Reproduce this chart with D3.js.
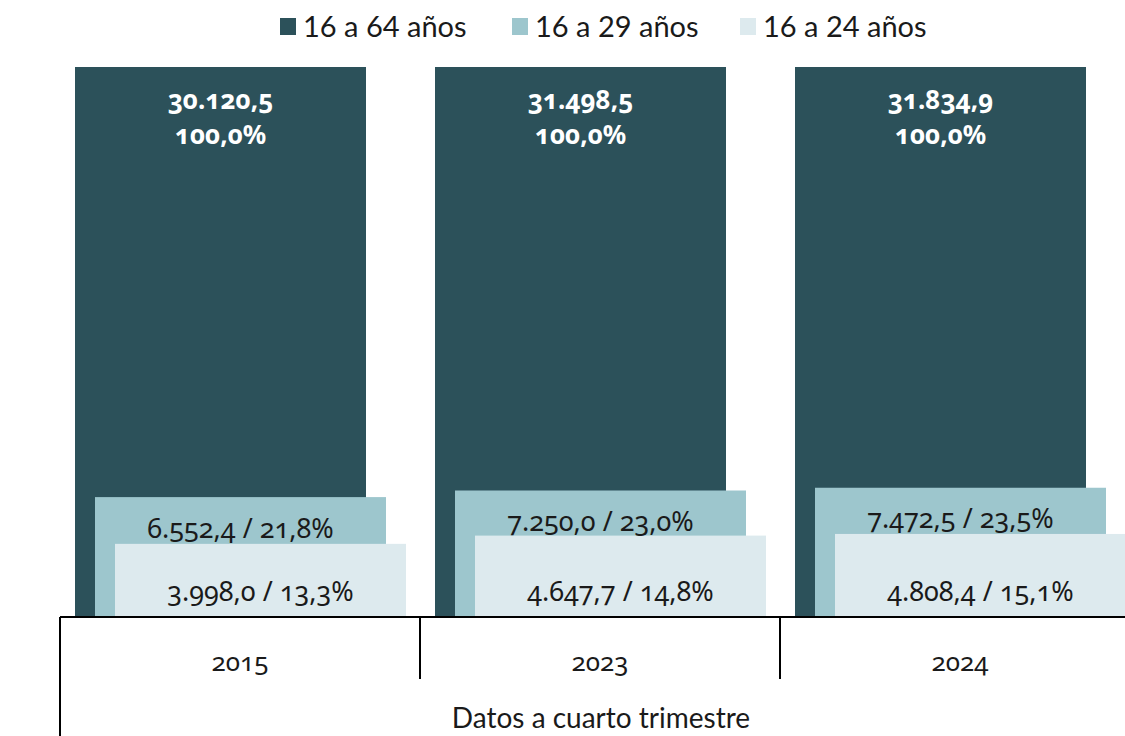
<!DOCTYPE html>
<html>
<head>
<meta charset="utf-8">
<script src="https://cdn.jsdelivr.net/npm/d3@7"></script>
<style>
  body { margin: 0; background: #fff; }
  .num { font-family: "Noto Sans", sans-serif; font-feature-settings: "onum"; font-variant-numeric: oldstyle-nums; }
  .leg { font-family: Lato, "Noto Sans", sans-serif; }
</style>
</head>
<body>
<div id="chart"></div>
<script>
// data
var years = ["2015", "2023", "2024"];
var seriesNames = ["16 a 64 años", "16 a 29 años", "16 a 24 años"];
var total = [30120.5, 31498.5, 31834.9];
var age16_29 = [6552.4, 7250.0, 7472.5];
var age16_24 = [3998.0, 4647.7, 4808.4];
var pct16_64 = [100.0, 100.0, 100.0];
var pct16_29 = [21.8, 23.0, 23.5];
var pct16_24 = [13.3, 14.8, 15.1];
var axisTitle = "Datos a cuarto trimestre";

var colors = ["#2c515a", "#9dc6cd", "#ddeaee"];

function main(){
    buildChart();
}

function buildChart(){
    var width = 1125, height = 736;
    var loc = d3.formatLocale({decimal: ",", thousands: ".", grouping: [3], currency: ["", "€"]});
    var fmt = loc.format(",.1f");

    var svg = d3.select("#chart")
        .append("svg")
            .attr("width", width)
            .attr("height", height);

    var xScale = d3.scaleBand().domain(years).range([60, 1140]).padding(0);
    var yScale = d3.scaleLinear().domain([0, 100]).range([617, 67]);

    var barW = 291;
    var series = [
        {vals: total, pct: pct16_64},
        {vals: age16_29, pct: pct16_29},
        {vals: age16_24, pct: pct16_24}
    ];

    // bars, drawn back to front
    series.forEach(function(s, si){
        svg.selectAll(".bar" + si)
            .data(years)
            .enter().append("rect")
            .attr("x", function(d){ return xScale(d) + 15 + 20 * si; })
            .attr("y", function(d, i){ return yScale(s.pct[i]); })
            .attr("width", barW)
            .attr("height", function(d, i){ return yScale(0) - yScale(s.pct[i]); })
            .attr("fill", colors[si]);
    });

    // labels on the bars
    years.forEach(function(y, i){
        var cx = xScale(y) + 15 + barW / 2;
        svg.append("text").attr("class", "num")
            .attr("x", cx).attr("y", yScale(100) + 42)
            .attr("text-anchor", "middle").attr("font-size", 26).attr("font-weight", "bold")
            .attr("fill", "#fff").text(fmt(total[i]));
        svg.append("text").attr("class", "num")
            .attr("x", cx).attr("y", yScale(100) + 77)
            .attr("text-anchor", "middle").attr("font-size", 26).attr("font-weight", "bold")
            .attr("fill", "#fff").text(fmt(pct16_64[i]) + "%");

        var cx2 = xScale(y) + 35 + barW / 2;
        svg.append("text").attr("class", "num")
            .attr("x", cx2).attr("y", yScale(pct16_29[i]) + 31)
            .attr("dy", "0.35em")
            .attr("text-anchor", "middle").attr("font-size", 27)
            .attr("fill", "#1a1a1a").text(fmt(age16_29[i]) + " / " + fmt(pct16_29[i]) + "%");

        var cx3 = xScale(y) + 55 + barW / 2;
        svg.append("text").attr("class", "num")
            .attr("x", cx3).attr("y", yScale(0) - 25)
            .attr("dy", "0.35em")
            .attr("text-anchor", "middle").attr("font-size", 27)
            .attr("fill", "#1a1a1a").text(fmt(age16_24[i]) + " / " + fmt(pct16_24[i]) + "%");
    });

    // axis
    var ax = svg.append("g");
    ax.append("line").attr("x1", 60).attr("x2", 1140)
        .attr("y1", yScale(0)).attr("y2", yScale(0))
        .attr("stroke", "#000").attr("stroke-width", 2);
    years.forEach(function(y, i){
        if (i > 0) {
            ax.append("line").attr("x1", xScale(y)).attr("x2", xScale(y))
                .attr("y1", yScale(0)).attr("y2", 679)
                .attr("stroke", "#000").attr("stroke-width", 2);
        }
        ax.append("text").attr("class", "num")
            .attr("x", xScale(y) + xScale.bandwidth() / 2).attr("y", 662)
            .attr("dy", "0.35em").attr("text-anchor", "middle")
            .attr("font-size", 26).attr("fill", "#1a1a1a").text(y);
    });
    ax.append("line").attr("x1", 60).attr("x2", 60)
        .attr("y1", yScale(0)).attr("y2", 736)
        .attr("stroke", "#000").attr("stroke-width", 2);
    ax.append("text").attr("class", "leg")
        .attr("x", 601).attr("y", 718).attr("dy", "0.35em")
        .attr("text-anchor", "middle").attr("font-size", 28)
        .attr("fill", "#1a1a1a").text(axisTitle);

    // legend
    var legX = [280, 512, 740];
    seriesNames.forEach(function(n, i){
        svg.append("rect").attr("x", legX[i]).attr("y", 18)
            .attr("width", 16).attr("height", 17).attr("fill", colors[i]);
        svg.append("text").attr("class", "leg")
            .attr("x", legX[i] + 23).attr("y", 27).attr("dy", "0.35em")
            .attr("font-size", 29).attr("fill", "#1a1a1a").text(n);
    });
}

main();
</script>
</body>
</html>
